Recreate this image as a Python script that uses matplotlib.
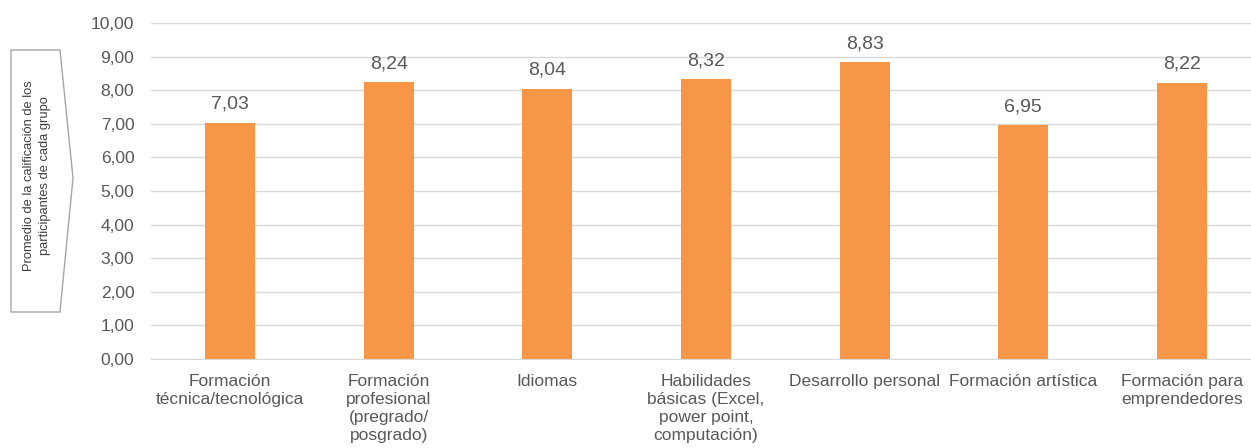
import matplotlib.pyplot as plt
from matplotlib.patches import Polygon

categories = [
    "Formación\ntécnica/tecnológica",
    "Formación\nprofesional\n(pregrado/\nposgrado)",
    "Idiomas",
    "Habilidades\nbásicas (Excel,\npower point,\ncomputación)",
    "Desarrollo personal",
    "Formación artística",
    "Formación para\nemprendedores",
]
scores = [7.03, 8.24, 8.04, 8.32, 8.83, 6.95, 8.22]
y_ticks = [0, 1, 2, 3, 4, 5, 6, 7, 8, 9, 10]

BAR_COLOR = "#F79646"
TEXT_COLOR = "#595959"
GRID_COLOR = "#D9D9D9"


def fmt(v):
    return f"{v:.2f}".replace(".", ",")


def main():
    plt.rcParams["font.family"] = ["Liberation Sans", "DejaVu Sans"]
    fig = plt.figure(figsize=(12.51, 4.48), dpi=100)
    ax = fig.add_axes([151 / 1251, 89 / 448, 1110 / 1251, 336 / 448])

    x = range(len(categories))
    ax.bar(x, scores, width=0.315, color=BAR_COLOR, zorder=2)
    for i, v in enumerate(scores):
        ax.text(i, v + 0.3, fmt(v), ha="center", va="bottom",
                fontsize=14, color=TEXT_COLOR)

    ax.set_xlim(-0.5, len(categories) - 0.5)
    ax.set_ylim(0, 10)
    ax.set_yticks(y_ticks)
    ax.set_yticklabels([fmt(t) for t in y_ticks], fontsize=12.5, color=TEXT_COLOR)
    ax.set_xticks(list(x))
    ax.set_xticklabels(categories, fontsize=12.5, color=TEXT_COLOR,
                       linespacing=1.25, va="top")
    ax.tick_params(axis="both", length=0)
    ax.tick_params(axis="y", pad=12)
    ax.tick_params(axis="x", pad=11)
    ax.grid(axis="y", color=GRID_COLOR, linewidth=1, zorder=0)
    for side in ["top", "right", "left"]:
        ax.spines[side].set_visible(False)
    ax.spines["bottom"].set_color(GRID_COLOR)

    # arrow-shaped y label box
    W, H = 1251, 448
    pts = [(11, 50), (60, 50), (73, 178), (60, 312), (11, 312)]
    box = Polygon([(px / W, 1 - py / H) for px, py in pts], closed=True,
                  transform=fig.transFigure, facecolor="white",
                  edgecolor="#A6A6A6", linewidth=1.0)
    fig.patches.append(box)
    fig.text(37 / W, 1 - 176 / H,
             "Promedio de la calificación de los\nparticipantes de cada grupo",
             rotation=90, ha="center", va="center", fontsize=9.3,
             color="#404040", linespacing=1.55)

    fig.savefig("out.png", dpi=100)


if __name__ == "__main__":
    main()
